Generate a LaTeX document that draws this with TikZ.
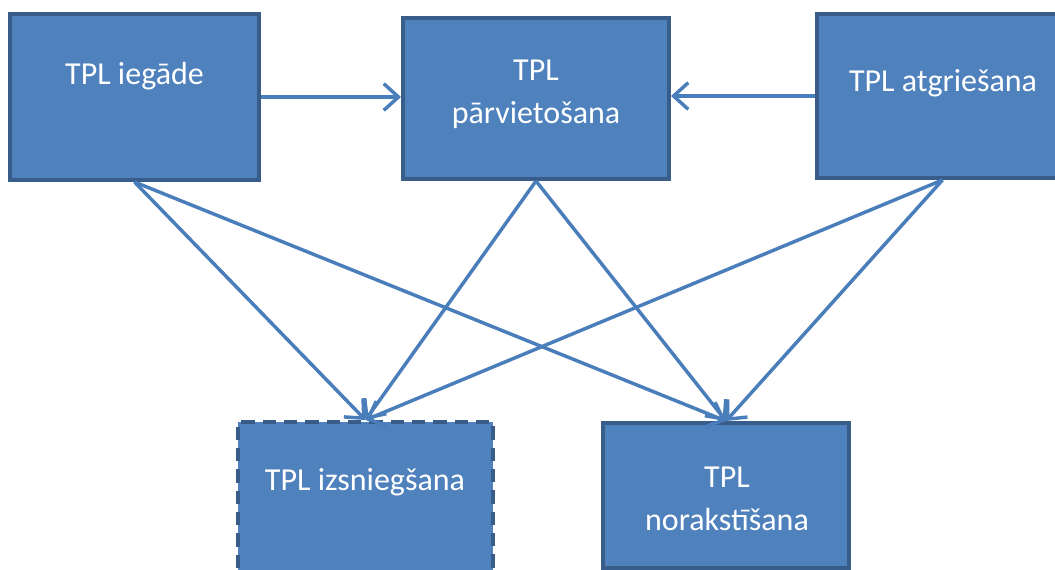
\documentclass[tikz,border=0pt]{standalone}
\usepackage{fontspec}
\setmainfont{Carlito}
\usepackage{tikz}
\usetikzlibrary{arrows.meta}
\definecolor{boxfill}{HTML}{4F81BD}
\definecolor{boxline}{HTML}{385D8A}
\definecolor{linkcol}{HTML}{4A7EBB}
\begin{document}
\begin{tikzpicture}[x = 0.75pt, y = -0.75pt]
\tikzstyle{box}=[draw = boxline, fill = boxfill, line width = 3pt, inner sep = 0pt]
\tikzstyle{label}=[text = white, align = center, font = \fontsize{24}{32}\selectfont]
\tikzstyle{arrow}=[-{Straight Barb[length = 11pt, width = 20pt, line width = 2.6pt]}, draw = linkcol, line width = 2.6pt]
\clip (0,0) rectangle (1055,570);
\node (iegade) [box, minimum width = 186.75pt, minimum height = 124.5pt]  at (134.5, 97)  {};
\node (parv)   [box, minimum width = 199.5pt,  minimum height = 120.75pt] at (536, 98.5)  {};
\node (atgr)   [box, minimum width = 188.25pt, minimum height = 123pt]    at (942.5, 96)  {};
\node (izsn)   [box, minimum width = 191.25pt, minimum height = 126pt, dash pattern = on 10pt off 6pt] at (365.5, 506) {};
\node (norak)  [box, minimum width = 184.5pt,  minimum height = 108.75pt] at (726, 495.5) {};
\node (iegade-t) [label, anchor = base] at (134.5, 85)  {TPL iegāde};
\node (parv-t)   [label]                at (536, 94)    {TPL\\pārvietošana};
\node (atgr-t)   [label, anchor = base] at (943, 92)    {TPL atgriešana};
\node (izsn-t)   [label, anchor = base] at (365, 490)   {TPL izsniegšana};
\node (norak-t)  [label]                at (727, 499)   {TPL\\norakstīšana};
\draw [arrow] (iegade.east) -- (iegade.east -| parv.west);
\draw [arrow] (atgr.west) -- (atgr.west -| parv.east);
\draw [arrow] (iegade.south) -- (izsn.north);
\draw [arrow] (iegade.south) -- (norak.north);
\draw [arrow] (parv.south) -- (izsn.north);
\draw [arrow] (parv.south) -- (norak.north);
\draw [arrow] (atgr.south) -- (izsn.north);
\draw [arrow] (atgr.south) -- (norak.north);
\end{tikzpicture}
\end{document}
